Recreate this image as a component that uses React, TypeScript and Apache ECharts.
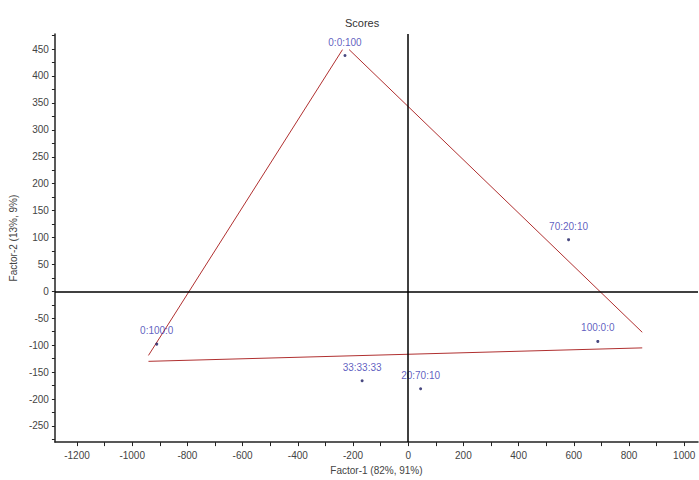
import React, { useEffect, useRef } from "react";
import * as echarts from "echarts";

const sampleNames = ["0:0:100", "70:20:10", "100:0:0", "0:100:0", "33:33:33", "20:70:10"];
const factor1 = [-229, 581, 687, -911, -167, 45];
const factor2 = [438, 96, -93, -98, -166, -181];

// triangle edges (x1, y1, x2, y2)
const edgeLeft = [[-941, -119], [-238, 449]];
const edgeRight = [[-214, 449], [848, -76]];
const edgeBottom = [[-941, -130], [848, -105]];

const xLabels = [-1200, -1000, -800, -600, -400, -200, 0, 200, 400, 600, 800, 1000];
const xTicks = [-1200, -1100, -1000, -900, -800, -700, -600, -500, -400, -300, -200, -100, 0, 100, 200, 300, 400, 500, 600, 700, 800, 900, 1000];
const yLabels = [-250, -200, -150, -100, -50, 0, 50, 100, 150, 200, 250, 300, 350, 400, 450];
const yTicks = [-275, -250, -225, -200, -175, -150, -125, -100, -75, -50, -25, 0, 25, 50, 75, 100, 125, 150, 175, 200, 225, 250, 275, 300, 325, 350, 375, 400, 425, 450, 475];

export default function App() {
  const ref = useRef<HTMLDivElement>(null);
  useEffect(() => {
    if (!ref.current) return;
    const chart = echarts.init(ref.current, null, { renderer: "svg" });
    const font = "Arial";
    const edgeSeries = [edgeLeft, edgeRight, edgeBottom].map((e) => ({
      type: "line",
      data: e,
      symbol: "none",
      lineStyle: { color: "#b03030", width: 1 },
      silent: true,
      z: 3,
    }));
    chart.setOption({
      animation: false,
      title: {
        text: "Scores",
        left: 340,
        top: 12,
        textStyle: { fontSize: 11, fontWeight: "normal", color: "#333", fontFamily: font },
      },
      grid: { left: 52, right: 1, top: 34, bottom: 32 },
      xAxis: {
        type: "value",
        min: -1280,
        max: 1050,
        name: "Factor-1 (82%, 91%)",
        nameLocation: "middle",
        nameGap: 19,
        nameTextStyle: { fontSize: 10, color: "#444", fontFamily: font },
        axisLine: { onZero: false, lineStyle: { color: "#222", width: 1.5 } },
        axisTick: { show: true, length: 4, customValues: xTicks, lineStyle: { color: "#222" } },
        axisLabel: {
          customValues: xLabels,
          fontSize: 10,
          color: "#444",
          margin: 8,
          fontFamily: font,
          formatter: (v: number) => String(v),
        },
        splitLine: { show: false },
      },
      yAxis: {
        type: "value",
        min: -280,
        max: 478,
        name: "Factor-2 (13%, 9%)",
        nameLocation: "middle",
        nameGap: 34,
        nameTextStyle: { fontSize: 10, color: "#444", fontFamily: font },
        axisLine: { show: true, onZero: false, lineStyle: { color: "#222", width: 1.5 } },
        axisTick: { show: true, length: 3, customValues: yTicks, lineStyle: { color: "#222" } },
        axisLabel: {
          customValues: yLabels,
          fontSize: 10,
          color: "#444",
          margin: 6,
          fontFamily: font,
          formatter: (v: number) => String(v),
        },
        splitLine: { show: false },
      },
      series: [
        ...edgeSeries,
        {
          type: "scatter",
          symbolSize: 3,
          itemStyle: { color: "#1a1a60" },
          data: sampleNames.map((n, i) => ({ name: n, value: [factor1[i], factor2[i]] })),
          label: {
            show: true,
            position: "top",
            distance: 7,
            formatter: "{b}",
            fontSize: 10,
            color: "#3535b0",
            fontFamily: font,
          },
          z: 4,
          markLine: {
            silent: true,
            symbol: "none",
            label: { show: false },
            lineStyle: { color: "#000", width: 1.5, type: "solid" },
            data: [{ xAxis: 0 }, { yAxis: 0 }],
          },
        },
      ],
    });
    return () => chart.dispose();
  }, []);
  return <div ref={ref} style={{ position: "fixed", left: 0, top: 0, width: 699, height: 480, background: "#fff" }} />;
}
